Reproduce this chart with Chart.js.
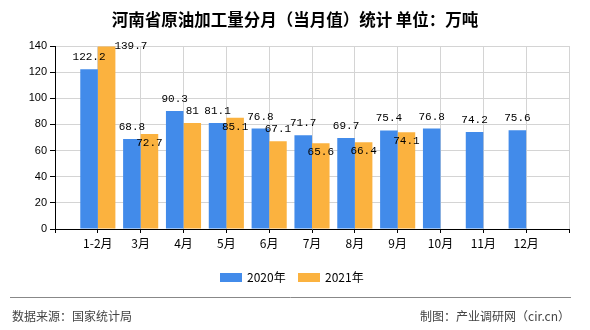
<!DOCTYPE html>
<html>
<head>
<meta charset="utf-8">
<script src="https://cdn.jsdelivr.net/npm/chart.js@4.4.0/dist/chart.umd.min.js"></script>
<style>
    html, body { margin: 0; padding: 0; background: #fff; }
    #wrap { width: 590px; height: 330px; position: relative; }
</style>
</head>
<body>
<div id="wrap"><canvas id="outputChart"></canvas></div>
<script>
const months = ['1-2月', '3月', '4月', '5月', '6月', '7月', '8月', '9月', '10月', '11月', '12月'];
const output2020 = [122.2, 68.8, 90.3, 81.1, 76.8, 71.7, 69.7, 75.4, 76.8, 74.2, 75.6];
const output2021 = [139.7, 72.7, 81, 85.1, 67.1, 65.6, 66.4, 74.1, null, null, null];
const seriesNames = ['2020年', '2021年'];
const seriesColors = ['#428BEA', '#FBB23F'];
const yMin = 0, yMax = 140, yStep = 20;

const titleText = '河南省原油加工量分月（当月值）统计 单位：万吨';
const sourceText = '数据来源：国家统计局';
const creditText = '制图：产业调研网（cir.cn）';

// empty slot on each side so the groups sit on the gridlines
const labels = [''].concat(months, ['']);
const pad = arr => [null].concat(arr, [null]);

const cjk = '"Noto Sans CJK SC", "Noto Sans", sans-serif';

// value labels: 2020 above its bar, 2021 above too unless it hits the 2020 label
const valueLabels = {
    id: 'valueLabels',
    afterDatasetsDraw(chart) {
        const ctx = chart.ctx;
        const area = chart.chartArea;
        const m0 = chart.getDatasetMeta(0);
        const m1 = chart.getDatasetMeta(1);
        ctx.save();
        ctx.font = '11px "Liberation Mono", monospace';
        ctx.fillStyle = '#000';
        ctx.textBaseline = 'middle';

        const boxes = [];
        m0.data.forEach((bar, i) => {
            const v = chart.data.datasets[0].data[i];
            if (v == null) return;
            const txt = String(v);
            const y = bar.y - 12;
            ctx.textAlign = 'center';
            ctx.fillText(txt, bar.x, y);
            boxes[i] = { x: bar.x, y: y, w: ctx.measureText(txt).width };
        });

        m1.data.forEach((bar, i) => {
            const v = chart.data.datasets[1].data[i];
            if (v == null) return;
            const txt = String(v);
            const w = ctx.measureText(txt).width;
            let x = bar.x, y = bar.y - 12;
            ctx.textAlign = 'center';
            if (y < area.top) {
                y = area.top;
                x = bar.x + bar.width / 2 - 1;
                ctx.textAlign = 'left';
            } else {
                const b = boxes[i];
                if (b && Math.abs(b.x - x) < (b.w + w) / 2 && Math.abs(b.y - y) < 11.5) {
                    y = bar.y + 9;
                }
            }
            ctx.fillText(txt, x, y);
        });
        ctx.restore();
    }
};

// title, legend, divider and footer
const decorations = {
    id: 'decorations',
    afterDraw(chart) {
        const ctx = chart.ctx;
        ctx.save();
        ctx.fillStyle = '#000';
        ctx.textBaseline = 'middle';
        ctx.textAlign = 'center';
        ctx.font = '600 16.5px ' + cjk;
        ctx.fillText(titleText, 295, 20);

        // legend
        ctx.font = '12px ' + cjk;
        ctx.textAlign = 'left';
        const legendX = [220, 298];
        seriesNames.forEach((name, i) => {
            ctx.fillStyle = seriesColors[i];
            ctx.fillRect(legendX[i], 273, 22, 9);
            ctx.fillStyle = '#000';
            ctx.fillText(name, legendX[i] + 27, 277.5);
        });

        ctx.strokeStyle = '#888';
        ctx.lineWidth = 1;
        ctx.beginPath();
        ctx.moveTo(10, 297.5);
        ctx.lineTo(571, 297.5);
        ctx.stroke();

        ctx.fillStyle = '#444';
        ctx.font = '12px ' + cjk;
        ctx.fillText(sourceText, 12, 316);
        ctx.textAlign = 'right';
        ctx.fillText(creditText, 570, 316);
        ctx.restore();
    }
};

new Chart(document.getElementById('outputChart'), {
    type: 'bar',
    data: {
        labels: labels,
        datasets: [
            { label: seriesNames[0], data: pad(output2020), backgroundColor: seriesColors[0] },
            { label: seriesNames[1], data: pad(output2021), backgroundColor: seriesColors[1] }
        ]
    },
    options: {
        responsive: true,
        maintainAspectRatio: false,
        animation: false,
        layout: { padding: { top: 46, left: 0, right: 21, bottom: 71 } },
        datasets: { bar: { categoryPercentage: 0.82, barPercentage: 1.0 } },
        plugins: {
            legend: { display: false },
            title: { display: false },
            tooltip: { enabled: false }
        },
        scales: {
            x: {
                offset: false,
                grid: { color: '#d4d4d4', tickColor: '#000', tickLength: 4, offset: false },
                border: { color: '#000', width: 1 },
                ticks: {
                    color: '#000',
                    padding: 3,
                    maxRotation: 0,
                    autoSkip: false,
                    font: { family: cjk, size: 12 }
                },
                afterFit(scale) { scale.height = 30; }
            },
            y: {
                min: yMin,
                max: yMax,
                grid: { color: '#d4d4d4', tickColor: '#000', tickLength: 5 },
                border: { color: '#000', width: 1 },
                ticks: {
                    stepSize: yStep,
                    color: '#000',
                    padding: 3,
                    font: { family: '"Liberation Sans", Arial, sans-serif', size: 11 }
                },
                afterFit(scale) { scale.width = 55; }
            }
        }
    },
    plugins: [valueLabels, decorations]
});
</script>
</body>
</html>
